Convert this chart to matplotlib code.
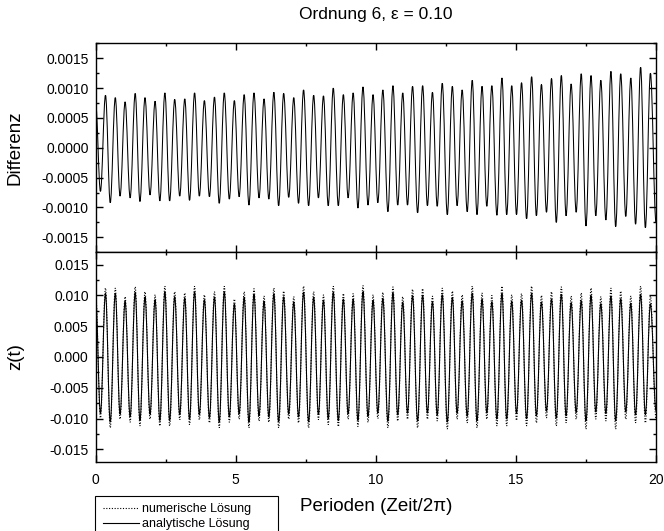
import numpy as np
import matplotlib
matplotlib.use("Agg")
import matplotlib.pyplot as plt
from matplotlib.ticker import MultipleLocator, FuncFormatter
from matplotlib.lines import Line2D
from matplotlib.path import Path
from matplotlib.patches import PathPatch

plt.rcParams['font.family'] = ['Liberation Sans', 'DejaVu Sans']
plt.rcParams['axes.unicode_minus'] = False

# times (periods) of the maxima and minima
peak_t = [0.35, 0.70, 1.05, 1.41, 1.76, 2.12, 2.47, 2.82, 3.18, 3.53, 3.88, 4.24, 4.59,
          4.95, 5.30, 5.65, 6.01, 6.36, 6.71, 7.07, 7.42, 7.78, 8.13, 8.48, 8.84, 9.19, 9.54,
          9.90, 10.25, 10.61, 10.96, 11.31, 11.67, 12.02, 12.37, 12.73, 13.08, 13.44, 13.79, 14.14, 14.50,
          14.85, 15.20, 15.56, 15.91, 16.27, 16.62, 16.97, 17.33, 17.68, 18.03, 18.39, 18.74, 19.10, 19.45,
          19.80]
trough_t = [0.17, 0.52, 0.87, 1.23, 1.58, 1.94, 2.29, 2.64, 3.00, 3.35, 3.70, 4.06, 4.41, 4.77,
            5.12, 5.47, 5.83, 6.18, 6.53, 6.89, 7.24, 7.60, 7.95, 8.30, 8.66, 9.01, 9.36, 9.72,
            10.07, 10.43, 10.78, 11.13, 11.49, 11.84, 12.19, 12.55, 12.90, 13.26, 13.61, 13.96, 14.32, 14.67,
            15.02, 15.38, 15.73, 16.09, 16.44, 16.79, 17.15, 17.50, 17.85, 18.21, 18.56, 18.92, 19.27, 19.62]
t_start, t_end = 0.0, 20.0

# Differenz (numerisch - analytisch), in units of 1e-3
diff_peaks = [0.88, 0.84, 0.77, 0.91, 0.84, 0.78, 0.92, 0.81, 0.82, 0.92, 0.79, 0.85, 0.92,
              0.79, 0.89, 0.92, 0.82, 0.93, 0.91, 0.84, 0.97, 0.88, 0.87, 1.00, 0.89, 0.92, 1.02,
              0.89, 0.97, 1.04, 0.92, 1.03, 1.04, 0.93, 1.08, 1.03, 0.97, 1.13, 1.03, 1.04, 1.17,
              1.04, 1.09, 1.19, 1.06, 1.16, 1.21, 1.07, 1.24, 1.21, 1.13, 1.28, 1.24, 1.17, 1.35,
              1.25]
diff_troughs = [-0.73, -0.92, -0.81, -0.84, -0.90, -0.79, -0.89, -0.89, -0.81, -0.88, -0.81, -0.82, -0.93, -0.86,
                -0.82, -0.96, -0.84, -0.86, -0.97, -0.83, -0.93, -0.97, -0.84, -0.97, -0.97, -0.84, -1.01, -0.96,
                -0.92, -1.07, -0.96, -0.96, -1.09, -0.97, -0.98, -1.12, -0.97, -1.07, -1.12, -0.98, -1.13, -1.12,
                -1.12, -1.19, -1.14, -1.08, -1.25, -1.14, -1.08, -1.31, -1.14, -1.21, -1.32, -1.15, -1.28, -1.34]
diff_start, diff_end = 0.73, -1.25

# numerische Loesung z(t), in units of 1e-3
znum_peaks = [11.2, 11.2, 9.8, 11.4, 10.6, 10.1, 11.5, 10.6, 10.4, 11.5, 10.1, 10.6, 11.5,
              9.4, 10.6, 11.1, 9.9, 11.2, 10.7, 9.8, 11.5, 10.6, 10.1, 11.5, 10.3, 10.3, 11.6,
              10.1, 10.5, 11.4, 9.8, 11.0, 11.1, 9.9, 11.2, 10.7, 10.1, 11.5, 10.4, 10.0, 11.5,
              10.1, 10.3, 11.5, 10.0, 10.6, 11.4, 9.9, 10.4, 11.2, 9.8, 11.2, 10.7, 9.9, 11.5,
              9.9]
znum_troughs = [-9.9, -11.5, -10.1, -10.6, -11.2, -10.1, -11.2, -11.2, -10.2, -11.0, -10.2, -10.7, -11.5, -10.6,
                -10.1, -11.5, -10.4, -10.6, -11.5, -10.1, -10.7, -11.5, -10.2, -11.0, -11.3, -10.1, -11.3, -10.6,
                -10.0, -11.5, -10.4, -10.1, -11.5, -10.1, -10.4, -11.7, -10.1, -10.7, -11.5, -10.1, -11.2, -11.2,
                -10.3, -11.2, -10.7, -9.9, -11.2, -10.7, -10.1, -11.7, -10.1, -10.4, -11.7, -10.1, -10.7, -10.7]
znum_start, znum_end = 10.2, -10.0


def weave(start, troughs, peaks, end):
    out = [start]
    for a, b in zip(troughs, peaks):
        out += [a, b]
    out.append(end)
    return np.array(out)


def smooth_path(x, y):
    # cubic bezier segments with flat tangents at each extremum
    verts = [(x[0], y[0])]
    codes = [Path.MOVETO]
    for i in range(len(x) - 1):
        h = x[i + 1] - x[i]
        verts += [(x[i] + 0.364 * h, y[i]), (x[i + 1] - 0.364 * h, y[i + 1]), (x[i + 1], y[i + 1])]
        codes += [Path.CURVE4] * 3
    return Path(verts, codes)


t = weave(t_start, trough_t, peak_t, t_end)
diff = weave(diff_start, diff_troughs, diff_peaks, diff_end) * 1e-3
z_num = weave(znum_start, znum_troughs, znum_peaks, znum_end) * 1e-3
z_ana = z_num - diff

fig = plt.figure(figsize=(6.64, 5.31), dpi=100)
ax1 = fig.add_axes([0.1441, 0.5249, 0.8439, 0.3936])
ax2 = fig.add_axes([0.1441, 0.1305, 0.8439, 0.3944], sharex=ax1)

ax1.add_patch(PathPatch(smooth_path(t, diff), fill=False, edgecolor='black', lw=0.75))
ax2.add_patch(PathPatch(smooth_path(t, z_ana), fill=False, edgecolor='black', lw=0.75, ls='-'))
ax2.add_patch(PathPatch(smooth_path(t, z_num), fill=False, edgecolor='black', lw=0.8,
                        ls=(0, (1, 1.5))))

ax1.set_xlim(0, 20)
ax1.set_ylim(-0.00175, 0.00175)
ax2.set_ylim(-0.017, 0.017)

for ax in (ax1, ax2):
    ax.xaxis.set_major_locator(MultipleLocator(5))
    ax.xaxis.set_minor_locator(MultipleLocator(2.5))
    ax.tick_params(which='both', direction='in', top=True, right=True, width=1.0)
    ax.tick_params(which='major', length=5)
    ax.tick_params(which='minor', length=2.5)
    ax.tick_params(axis='y', labelsize=10, pad=5)
    ax.tick_params(axis='x', labelsize=10, pad=8)
    for s in ax.spines.values():
        s.set_linewidth(1.0)

ax1.yaxis.set_major_locator(MultipleLocator(0.0005))
ax1.yaxis.set_minor_locator(MultipleLocator(0.00025))
ax1.yaxis.set_major_formatter(FuncFormatter(lambda v, p: "0.0000" if abs(v) < 1e-9 else f"{v:.4f}"))
ax2.yaxis.set_major_locator(MultipleLocator(0.005))
ax2.yaxis.set_minor_locator(MultipleLocator(0.0025))
ax2.yaxis.set_major_formatter(FuncFormatter(lambda v, p: "0.000" if abs(v) < 1e-9 else f"{v:.3f}"))
ax2.xaxis.set_major_formatter(FuncFormatter(lambda v, p: f"{v:.0f}"))
plt.setp(ax1.get_xticklabels(), visible=False)

ax1.set_ylabel("Differenz", fontsize=13.5)
ax2.set_ylabel("z(t)", fontsize=13.5)
ax1.yaxis.set_label_coords(-0.128, 0.5)
ax2.yaxis.set_label_coords(-0.128, 0.5)
ax2.set_xlabel("Perioden (Zeit/2\u03c0)", fontsize=13.5)
ax2.xaxis.set_label_coords(0.5, -0.175)

fig.text(376 / 664, 1 - 15 / 531, "Ordnung 6, \u03b5 = 0.10", fontsize=12.5,
         ha='center', va='center')

handles = [Line2D([], [], color='black', lw=0.8, ls=(0, (1, 1.5))),
           Line2D([], [], color='black', lw=0.8)]
leg = fig.legend(handles, ["numerische Lösung", "analytische Lösung"],
                 loc='upper left', bbox_to_anchor=(95 / 664, 0, 183 / 664, 1 - 495.7 / 531),
                 mode='expand', fontsize=9, frameon=True, fancybox=False,
                 edgecolor='black', framealpha=1, borderpad=0.6, handlelength=2.9,
                 handletextpad=0.3, labelspacing=0.25, borderaxespad=0)
leg.get_frame().set_linewidth(0.8)

fig.savefig("out.png", dpi=100)
